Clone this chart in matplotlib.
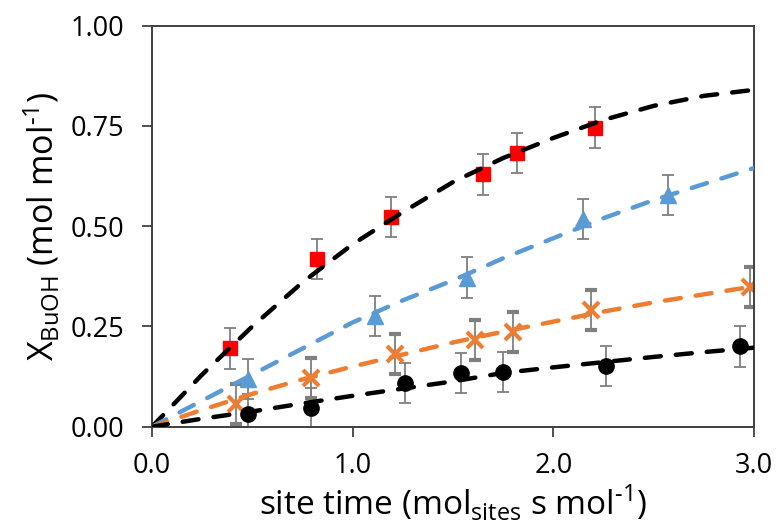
import matplotlib
matplotlib.use('Agg')
import matplotlib.pyplot as plt

plt.rcParams['font.family'] = ['Open Sans', 'DejaVu Sans']
plt.rcParams['mathtext.fontset'] = 'custom'
plt.rcParams['mathtext.rm'] = 'Open Sans'

# measured points
red_x = [0.39, 0.82, 1.19, 1.65, 1.82, 2.21]
red_y = [0.195, 0.418, 0.522, 0.629, 0.682, 0.746]

blue_x = [0.48, 1.11, 1.57, 2.15, 2.57]
blue_y = [0.118, 0.276, 0.372, 0.517, 0.578]

orange_x = [0.42, 0.79, 1.21, 1.61, 1.80, 2.19, 2.98]
orange_y = [0.057, 0.122, 0.181, 0.216, 0.237, 0.291, 0.348]

black_x = [0.48, 0.79, 1.26, 1.54, 1.75, 2.26, 2.93]
black_y = [0.031, 0.046, 0.108, 0.133, 0.137, 0.151, 0.200]

err = 0.05

# fitted model curves
fit_x = [0, 0.25, 0.5, 0.75, 1.0, 1.25, 1.5, 1.75, 2.0, 2.25, 2.5, 2.75, 3.0]
fit_red = [0, 0.13, 0.25, 0.36, 0.455, 0.535, 0.61, 0.67, 0.72, 0.765, 0.80, 0.825, 0.84]
fit_blue = [0, 0.065, 0.13, 0.195, 0.26, 0.315, 0.365, 0.42, 0.47, 0.52, 0.565, 0.605, 0.645]
fit_orange = [0, 0.042, 0.082, 0.118, 0.15, 0.18, 0.21, 0.237, 0.262, 0.287, 0.31, 0.33, 0.35]
fit_black = [0, 0.02, 0.038, 0.058, 0.077, 0.095, 0.113, 0.134, 0.148, 0.161, 0.174, 0.186, 0.197]

fig = plt.figure(figsize=(7.77, 5.24), dpi=100)
ax = fig.add_axes([0.1956, 0.1857, 0.7748, 0.7653])

ebkw = dict(ls='none', ecolor='#7f7f7f', elinewidth=1.3, capsize=4, capthick=1.3, zorder=2)

ax.errorbar(red_x, red_y, yerr=err, marker='s', ms=10.5, mfc='#ff0000', mec='#ff0000', **ebkw)
ax.errorbar(blue_x, blue_y, yerr=err, marker='^', ms=12, mfc='#5b9bd5', mec='#5b9bd5', **ebkw)
ax.errorbar(orange_x, orange_y, yerr=err, marker='x', ms=12, mew=3, mfc='#ed7d31', mec='#ed7d31', **ebkw)
ax.errorbar(black_x, black_y, yerr=err, marker='o', ms=11, mfc='black', mec='black', **ebkw)

lkw = dict(lw=3.2, dashes=(3.6, 3.4), zorder=3, dash_capstyle='round')
ax.plot(fit_x, fit_red, color='black', **lkw)
ax.plot(fit_x, fit_blue, color='#5b9bd5', **lkw)
ax.plot(fit_x, fit_orange, color='#ed7d31', **lkw)
ax.plot(fit_x, fit_black, color='black', **lkw)

ax.set_xlim(0, 3)
ax.set_ylim(0, 1)
ax.set_xticks([0, 1, 2, 3])
ax.set_xticklabels(['0.0', '1.0', '2.0', '3.0'])
ax.set_yticks([0, 0.25, 0.5, 0.75, 1.0])
ax.set_yticklabels(['0.00', '0.25', '0.50', '0.75', '1.00'])
ax.tick_params(direction='out', length=7, width=1.3, labelsize=19.5, colors='#404040', labelcolor='black')
ax.tick_params(axis='x', pad=11)
ax.tick_params(axis='y', pad=13)

for s in ax.spines.values():
    s.set_linewidth(1.4)
    s.set_color('#404040')

ax.set_xlabel('site time (mol$_{\\mathregular{sites}}$ s mol$^{\\mathregular{\u2010}1}$)', fontsize=24, labelpad=2)
ax.set_ylabel('X$_{\\mathregular{BuOH}}$ (mol mol$^{\\mathregular{\u2010}1}$)', fontsize=24.5, labelpad=6)

fig.savefig('out.png', dpi=100)
